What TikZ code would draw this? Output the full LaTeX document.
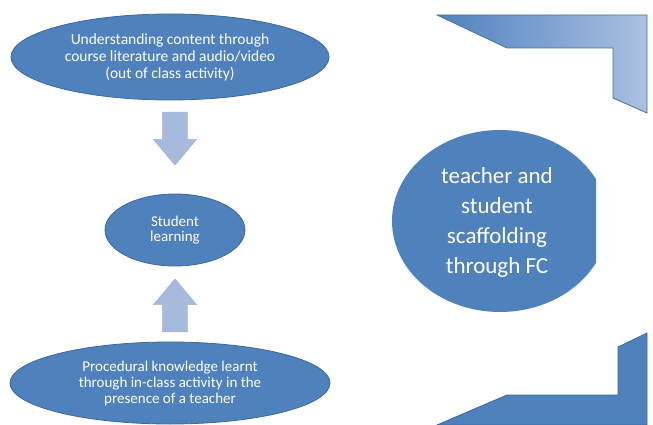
\documentclass[tikz,border=0pt]{standalone}
\usepackage{fontspec}
\setmainfont{Carlito}
\usepackage{tikz}
\usetikzlibrary{positioning}
\usetikzlibrary{shapes.geometric}
\usetikzlibrary{shapes.arrows}

\definecolor{officeblue}{RGB}{79,129,189}
\definecolor{edgeblue}{RGB}{60,104,158}
\definecolor{paleblue}{RGB}{168,186,220}
\definecolor{lightblue}{RGB}{170,193,226}

\begin{document}
\begin{tikzpicture}[
  x=1pt, y=-1pt,
  bubble/.style={ellipse, draw=edgeblue, line width=0.8pt, fill=officeblue, text=white, align=center, inner sep=0pt},
  blockarrow/.style={single arrow, fill=paleblue, draw=paleblue!90!gray, inner sep=12.5pt, single arrow head extend=9pt, single arrow tip angle=80, minimum height=53pt, anchor=tail},
  corner/.style={draw=edgeblue, line width=0.8pt}
]
\useasboundingbox (0,0) rectangle (653,425);

\node[bubble, minimum width=318pt, minimum height=86pt, font=\fontsize{15.5}{17}\selectfont] (content) at (170,57)
  {Understanding content through\\course literature and audio/video\\(out of class activity)};
\node[bubble, minimum width=140pt, minimum height=72pt, font=\fontsize{15}{14.5}\selectfont] (learning) at (175,230)
  {Student\\learning};
\node[bubble, minimum width=320pt, minimum height=82pt, font=\fontsize{15}{16}\selectfont] (procedure) at (170,383)
  {Procedural knowledge learnt\\through in-class activity in the\\presence of a teacher};

\node[blockarrow, rotate=-90] (down) at (175,112) {};
\node[blockarrow, rotate=90] (up) at (175,332) {};

% clipped circle on the right
\begin{scope}
  \clip (380,120) rectangle (596,320);
  \node[bubble, minimum width=216pt, minimum height=182pt, draw=none] (scaffold) at (500,221) {};
\end{scope}
\node[text=white, align=center, font=\fontsize{23}{30}\selectfont] (scaffoldtext) at (497,222)
  {teacher and\\student\\scaffolding\\through FC};

% corner brackets
\draw[corner, draw=edgeblue!70!gray, left color=officeblue, right color=lightblue]
  (437,15) -- (647,15) -- (647,113) -- (613,98) -- (613,48) -- (507,48) -- cycle;
\draw[corner, fill=officeblue]
  (647,333) -- (647,425) -- (437,425) -- (507,395) -- (618,395) -- (618,347) -- cycle;

\end{tikzpicture}
\end{document}
